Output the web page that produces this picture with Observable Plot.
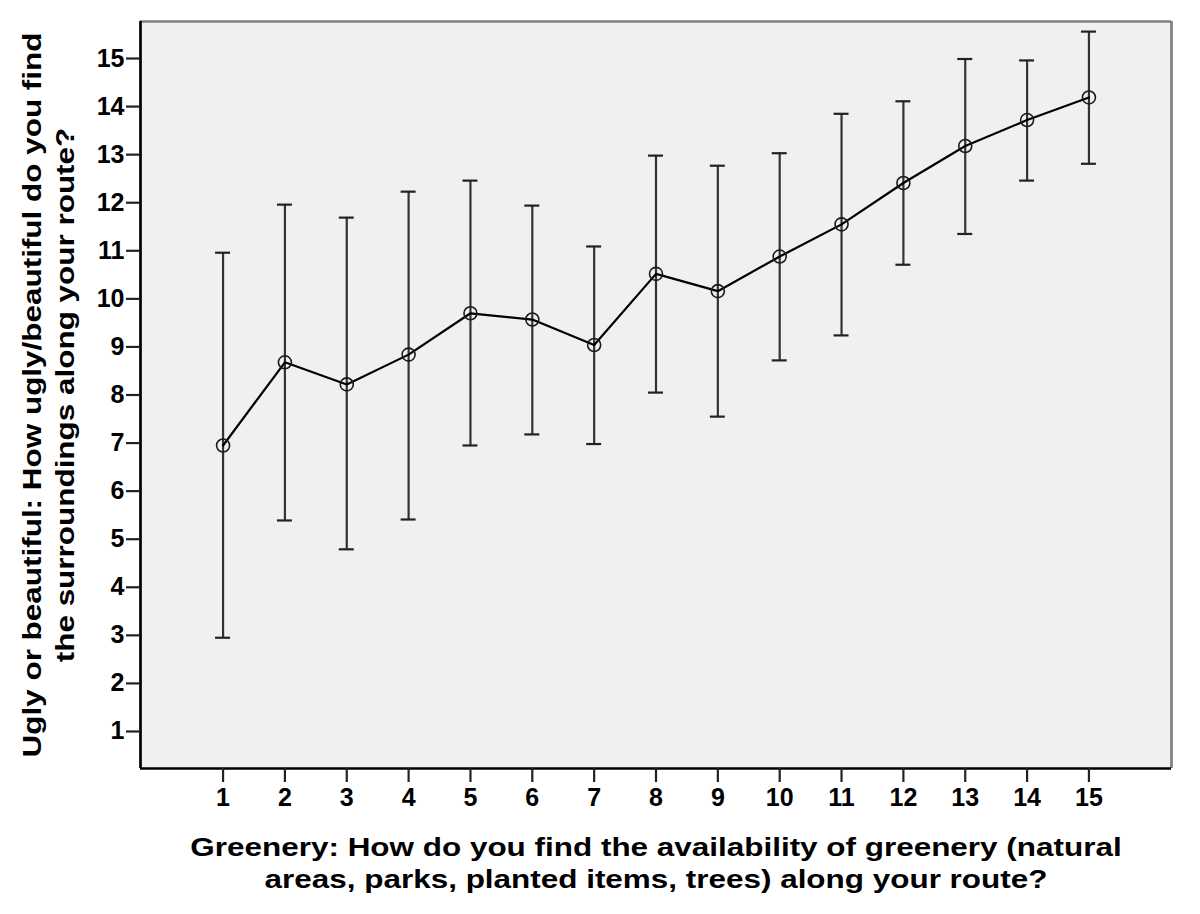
<!DOCTYPE html>
<html>
<head>
<meta charset="utf-8">
<script src="https://cdn.jsdelivr.net/npm/d3@7"></script>
<script src="https://cdn.jsdelivr.net/npm/@observablehq/plot@0.6"></script>
<style>
  html, body { margin: 0; padding: 0; background: #ffffff; }
</style>
</head>
<body>
<div id="chart"></div>
<script>
const categories = [1, 2, 3, 4, 5, 6, 7, 8, 9, 10, 11, 12, 13, 14, 15];
const means = [6.95, 8.68, 8.22, 8.84, 9.70, 9.57, 9.04, 10.52, 10.16, 10.88, 11.55, 12.41, 13.18, 13.72, 14.19];
const upper = [10.96, 11.96, 11.69, 12.23, 12.46, 11.94, 11.09, 12.98, 12.77, 13.03, 13.85, 14.11, 14.99, 14.96, 15.56];
const lower = [2.95, 5.39, 4.79, 5.41, 6.95, 7.18, 6.98, 8.05, 7.55, 8.72, 9.24, 10.71, 11.35, 12.46, 12.81];
const xTicks = [1, 2, 3, 4, 5, 6, 7, 8, 9, 10, 11, 12, 13, 14, 15];
const yTicks = [1, 2, 3, 4, 5, 6, 7, 8, 9, 10, 11, 12, 13, 14, 15];
const xTitle = "Greenery: How do you find the availability of greenery (natural\nareas, parks, planted items, trees) along your route?";
const yTitle = "Ugly or beautiful: How ugly/beautiful do you find\nthe surroundings along your route?";

const xDomain = [-0.335, 16.335];
const yDomain = [0.23, 15.77];
const capHalf = 0.121;

const data = categories.map((c, i) => ({x: c, mean: means[i], hi: upper[i], lo: lower[i]}));

const chart = Plot.plot({
  width: 1200,
  height: 914,
  marginLeft: 140,
  marginRight: 29,
  marginTop: 21,
  marginBottom: 146,
  style: "font-family: 'Liberation Sans', Arial, sans-serif; font-weight: bold; font-size: 25px; color: #000; background: #ffffff; overflow: visible;",
  x: {domain: xDomain, range: [140, 1171]},
  y: {domain: yDomain, range: [768, 21]},
  marks: [
    Plot.frame({fill: "#f0f0f0", stroke: null}),
    // error bars
    Plot.ruleX(data, {x: "x", y1: "lo", y2: "hi", stroke: "#333", strokeWidth: 2.2}),
    Plot.ruleY(data, {y: "hi", x1: d => d.x - capHalf, x2: d => d.x + capHalf, stroke: "#222", strokeWidth: 2.2}),
    Plot.ruleY(data, {y: "lo", x1: d => d.x - capHalf, x2: d => d.x + capHalf, stroke: "#222", strokeWidth: 2.2}),
    // mean line and markers
    Plot.line(data, {x: "x", y: "mean", stroke: "#000", strokeWidth: 2.2}),
    Plot.dot(data, {x: "x", y: "mean", r: 6.5, stroke: "#1a1a1a", strokeWidth: 1.6, fill: "none"}),
    // frame edges
    Plot.ruleY([yDomain[1]], {stroke: "#808080", strokeWidth: 2.7}),
    Plot.ruleX([xDomain[1]], {stroke: "#808080", strokeWidth: 2.7}),
    Plot.ruleX([xDomain[0]], {stroke: "#000", strokeWidth: 2.7}),
    Plot.ruleY([yDomain[0]], {stroke: "#000", strokeWidth: 2.7}),
    // axes
    Plot.axisX({ticks: xTicks, tickSize: 14, tickPadding: 6, tickFormat: d => String(d), strokeWidth: 2.2, stroke: "#222", fontSize: 25, fontWeight: "bold", label: null}),
    Plot.axisY({ticks: yTicks, tickSize: 14, tickPadding: 2, tickFormat: d => String(d), strokeWidth: 2.2, stroke: "#222", fontSize: 25, fontWeight: "bold", label: null}),
    // axis titles
    Plot.text([xTitle], {frameAnchor: "bottom", lineAnchor: "top", textAnchor: "middle", dy: 65, lineHeight: 1.22, fontSize: 26, fontWeight: "bold", fill: "#000"}),
    Plot.text([yTitle], {frameAnchor: "left", lineAnchor: "top", textAnchor: "middle", rotate: -90, dx: -123, lineHeight: 1.28, fontSize: 26, fontWeight: "bold", fill: "#000"})
  ]
});
// widen the title glyphs to match the wide bitmap rendering of the original
d3.select(chart).selectAll('g[aria-label="text"] text').each(function () {
  const t = this.getAttribute("transform") || "";
  this.setAttribute("transform", t + " scale(1.21,1)");
});
document.getElementById("chart").appendChild(chart);
</script>
</body>
</html>
